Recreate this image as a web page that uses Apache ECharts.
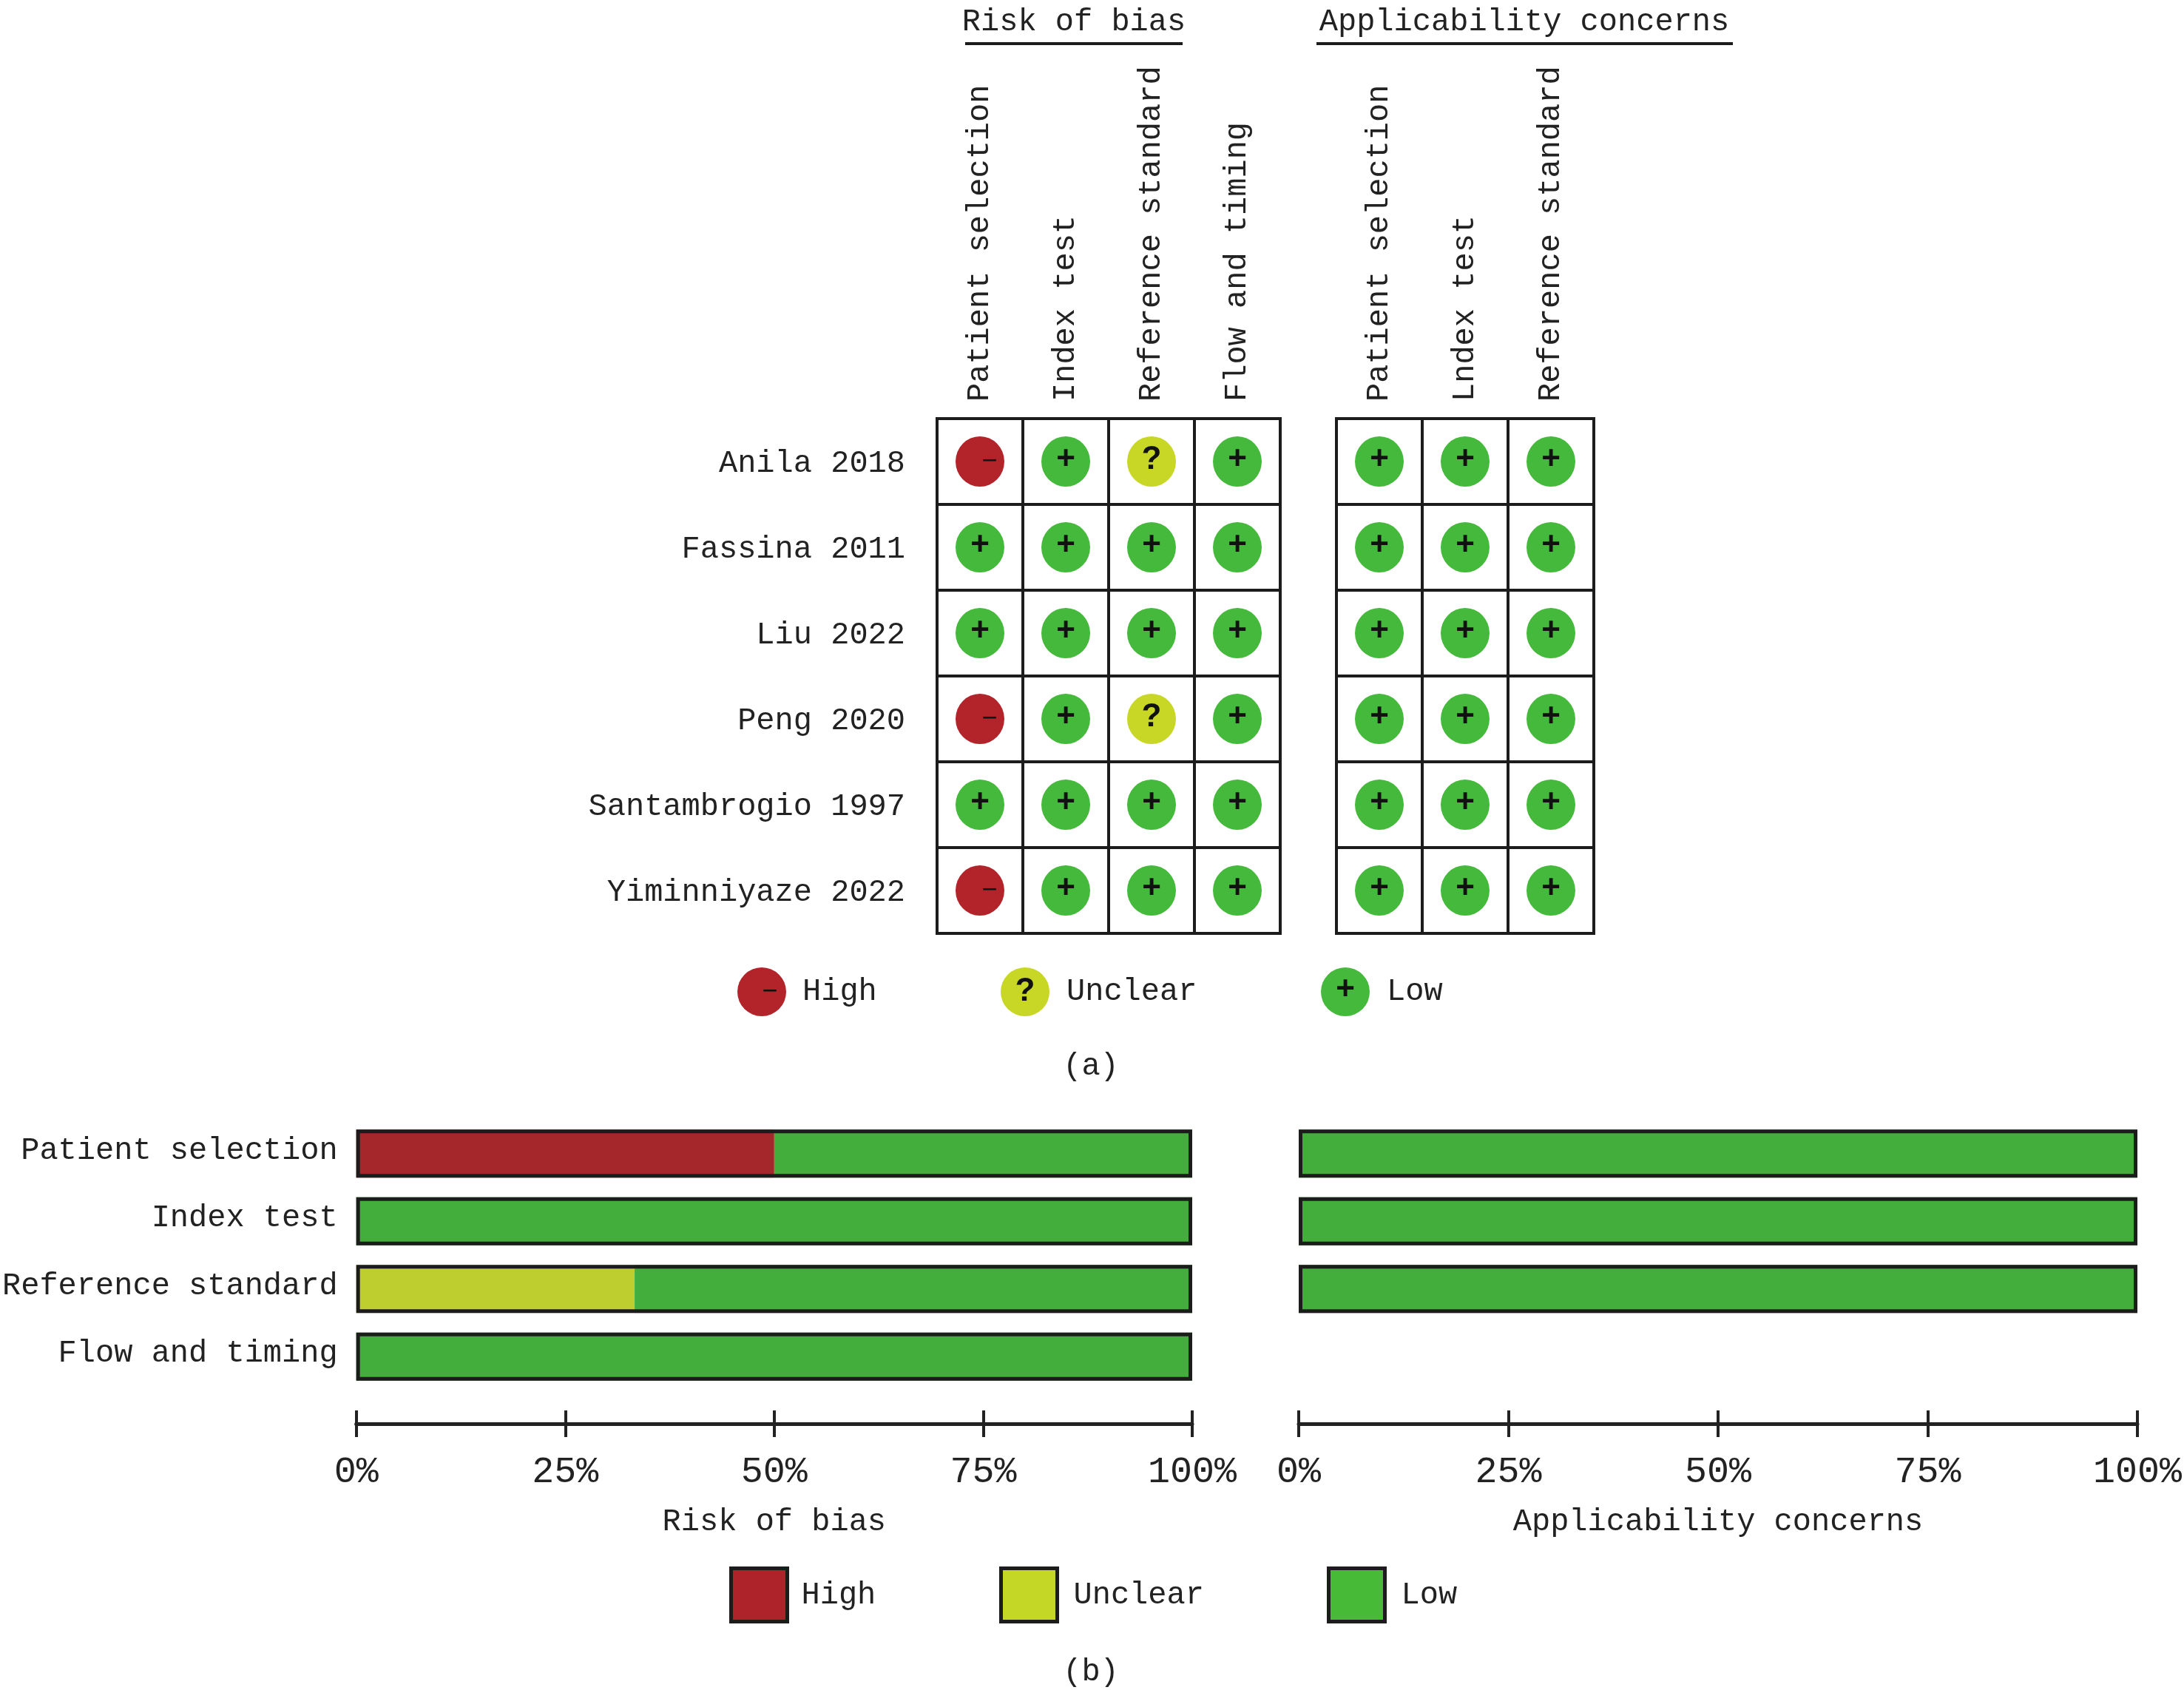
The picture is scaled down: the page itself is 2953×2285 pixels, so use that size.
<!DOCTYPE html>
<html><head><meta charset="utf-8">
<style>html,body{margin:0;padding:0;background:#fff}#c{width:2953px;height:2285px}</style>
<script src="https://cdn.jsdelivr.net/npm/echarts@6/dist/echarts.min.js"></script>
</head><body><div id="c"></div>
<script>
const studies = ['Anila 2018','Fassina 2011','Liu 2022','Peng 2020','Santambrogio 1997','Yiminniyaze 2022'];
const riskDomains = ['Patient selection','Index test','Reference standard','Flow and timing'];
const applicabilityDomains = ['Patient selection','Lndex test','Reference standard'];
const riskRatings = [
  ['High','Low','Unclear','Low'],
  ['Low','Low','Low','Low'],
  ['Low','Low','Low','Low'],
  ['High','Low','Unclear','Low'],
  ['Low','Low','Low','Low'],
  ['High','Low','Low','Low']
];
const applicabilityRatings = [
  ['Low','Low','Low'],['Low','Low','Low'],['Low','Low','Low'],
  ['Low','Low','Low'],['Low','Low','Low'],['Low','Low','Low']
];
const barDomains = ['Patient selection','Index test','Reference standard','Flow and timing'];
const riskHigh = [50,0,0,0];
const riskUnclear = [0,0,33.3,0];
const riskLow = [50,100,66.7,100];
const applicabilityHigh = [0,0,0,null];
const applicabilityUnclear = [0,0,0,null];
const applicabilityLow = [100,100,100,null];
const percentTicks = [0,25,50,75,100];

const FONT = '"Liberation Mono"';
const INK = '#222';
const markColor = {High:'#B2232A',Unclear:'#C8D626',Low:'#45B93B'};
const barColor = {High:'#A5262B',Unclear:'#BECE2E',Low:'#43AE3C'};
const swatchColor = {High:'#AE2329',Unclear:'#C5D726',Low:'#47BA38'};
const glyph = {High:'\u2212',Unclear:'?',Low:'+'};
const text = (size) => ({fontFamily:FONT,fontSize:size,color:INK});

function cells(ratings, level){
  const out = [];
  ratings.forEach((row,r)=>row.forEach((v,c)=>{ if(v===level) out.push([c,r]); }));
  return out;
}
function markSeries(ratings, axisIndex){
  return ['High','Unclear','Low'].map(level=>({
    type:'scatter',name:level,xAxisIndex:axisIndex,yAxisIndex:axisIndex,
    data:cells(ratings,level),symbol:'circle',symbolSize:[66,68],z:5,
    itemStyle:{color:markColor[level],opacity:1},
    label:{show:true,position:'inside',formatter:glyph[level],color:'#111',
      fontFamily:'"Liberation Sans"',
      fontWeight:level==='High'?'normal':'bold',fontSize:level==='High'?36:44,
      offset:level==='High'?[13,0]:[0,-2]}
  }));
}
function barSeries(name,data,axisIndex,stack){
  return {type:'bar',name,data,stack,xAxisIndex:axisIndex,yAxisIndex:axisIndex,
    barWidth:65,barGap:'-100%',z:3,itemStyle:{color:barColor[name]}};
}
function outlineSeries(lowHighUnclear,axisIndex){
  const totals = lowHighUnclear[0].map((_,i)=>{
    const vals = lowHighUnclear.map(a=>a[i]);
    return vals.every(v=>v===null)?null:vals.reduce((s,v)=>s+v,0);
  });
  return {type:'bar',name:'Outline',data:totals,xAxisIndex:axisIndex,yAxisIndex:axisIndex,
    barWidth:65,barGap:'-100%',z:4,silent:true,
    itemStyle:{color:'rgba(0,0,0,0)',borderColor:'#1c1c1c',borderWidth:5}};
}
function catX(data,gridIndex){
  return {type:'category',gridIndex,position:'top',data,boundaryGap:true,
    axisLine:{show:false},axisTick:{show:false},
    axisLabel:{...text(42),rotate:-90,margin:23,interval:0},
    splitLine:{show:true,interval:0,lineStyle:{color:'#1c1c1c',width:4}}};
}
function catY(data,gridIndex,showLabels,margin,vAlign,lineHeight){
  return {type:'category',gridIndex,data,inverse:true,boundaryGap:true,
    axisLine:{show:false},axisTick:{show:false},
    axisLabel:{show:showLabels,...text(42),margin,interval:0,verticalAlign:vAlign,lineHeight},
    splitLine:{show:gridIndex<2,interval:0,lineStyle:{color:'#1c1c1c',width:4}}};
}
function valueX(gridIndex,name){
  return {type:'value',gridIndex,position:'bottom',offset:45,min:0,max:100,interval:25,
    axisLine:{show:true,lineStyle:{color:INK,width:5}},
    axisTick:{show:true,length:18,lineStyle:{color:INK,width:4}},
    axisLabel:{...text(50),margin:41,formatter:v=>percentTicks.includes(v)?v+'%':''},
    splitLine:{show:false},
    name,nameLocation:'middle',nameGap:112,nameTextStyle:text(42)};
}
function tickX(gridIndex){
  return {type:'value',gridIndex,position:'bottom',offset:45,min:0,max:100,interval:25,
    axisLine:{show:false},
    axisTick:{show:true,inside:true,length:18,lineStyle:{color:INK,width:4}},
    axisLabel:{show:false},splitLine:{show:false}};
}
function legendItem(name,icon,left,top,w,h,gap,color){
  return {show:true,left,top,padding:0,orient:'horizontal',selectedMode:false,
    itemWidth:w,itemHeight:h,
    data:[{name,icon,itemStyle:{color,opacity:1,
      borderColor:icon==='rect'?'#1c1c1c':'transparent',borderWidth:icon==='rect'?5:0}}],
    textStyle:{...text(42),padding:[0,0,0,gap]}};
}
function glyphText(txt,x,y,size,weight){
  return {type:'text',x,y,z:50,style:{text:txt,fill:'#111',align:'center',verticalAlign:'middle',
    font:weight+' '+size+'px "Liberation Sans"'}};
}
function rule(x1,x2,y){
  return {type:'line',z:50,shape:{x1,y1:y,x2,y2:y},style:{stroke:'#1c1c1c',lineWidth:4}};
}
function heading(txt,x,y){
  return {text:txt,left:x,top:y,textAlign:'center',textVerticalAlign:'middle',padding:0,
    textStyle:{...text(42),fontWeight:'normal'}};
}

const chart = echarts.init(document.getElementById('c'));
chart.setOption({
  animation:false,backgroundColor:'#fff',
  title:[
    heading('Risk of bias',1452,30),
    heading('Applicability concerns',2061,30),
    heading('(a)',1475,1442),
    heading('(b)',1475,2261)
  ],
  legend:[
    legendItem('High','circle',997,1308,66,66,17,markColor.High),
    legendItem('Unclear','circle',1353,1308,66,66,18,markColor.Unclear),
    legendItem('Low','circle',1786,1308,66,66,18,markColor.Low),
    legendItem('High','rect',986,2118,76,72,14,swatchColor.High),
    legendItem('Unclear','rect',1351,2118,76,72,17,swatchColor.Unclear),
    legendItem('Low','rect',1794,2118,76,72,17,swatchColor.Low)
  ],
  grid:[
    {left:1267,top:566,width:464,height:696,show:true,borderColor:'#1c1c1c',borderWidth:4,backgroundColor:'#fff'},
    {left:1807,top:566,width:348,height:696,show:true,borderColor:'#1c1c1c',borderWidth:4,backgroundColor:'#fff'},
    {left:480,top:1514,width:1132,height:366},
    {left:1756,top:1514,width:1137,height:366}
  ],
  xAxis:[
    catX(riskDomains,0),catX(applicabilityDomains,1),
    valueX(2,'Risk of bias'),valueX(3,'Applicability concerns'),
    tickX(2),tickX(3)
  ],
  yAxis:[
    catY(studies,0,true,43,'top',6),catY(studies,1,false,0),
    catY(barDomains,2,true,25,'bottom',8),catY(barDomains,3,false,0)
  ],
  series:[
    ...markSeries(riskRatings,0),
    ...markSeries(applicabilityRatings,1),
    barSeries('High',riskHigh,2,'risk'),
    barSeries('Unclear',riskUnclear,2,'risk'),
    barSeries('Low',riskLow,2,'risk'),
    outlineSeries([riskHigh,riskUnclear,riskLow],2),
    barSeries('High',applicabilityHigh,3,'app'),
    barSeries('Unclear',applicabilityUnclear,3,'app'),
    barSeries('Low',applicabilityLow,3,'app'),
    outlineSeries([applicabilityHigh,applicabilityUnclear,applicabilityLow],3)
  ],
  graphic:[
    rule(1305,1599,59),rule(1780,2343,59),
    glyphText('\u2212',1041,1341,36,'normal'),
    glyphText('?',1386,1341,44,'bold'),
    glyphText('+',1819,1339,44,'bold')
  ]
});
</script></body></html>
